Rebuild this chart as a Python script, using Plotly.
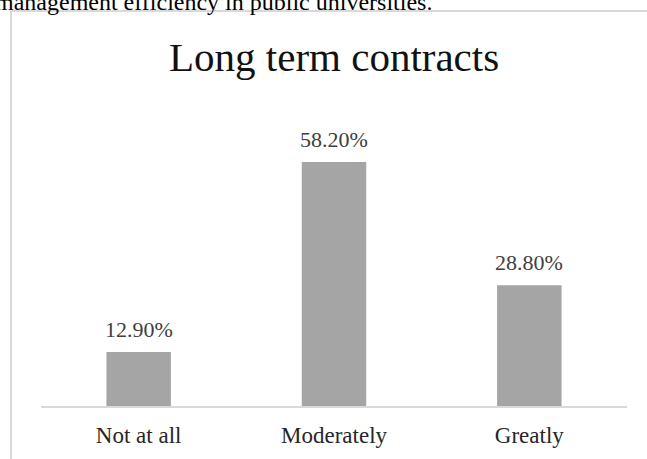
import plotly.graph_objects as go

# Survey responses: extent to which long term contracts apply
categories = ["Not at all", "Moderately", "Greatly"]
percentages = [12.9, 58.2, 28.8]
title_text = "Long term contracts"
caption_text = "management efficiency in public universities."

W, H = 647, 459
L, R, T, B = 41, 20, 100, 53
plot_w = W - L - R
plot_h = H - T - B
y_max = 73.0


def px_x(p):
    return (p - L) / plot_w


def px_y(p):
    return (H - B - p) / plot_h


fig = go.Figure(
    go.Bar(
        x=categories,
        y=percentages,
        marker=dict(color="#A5A5A5", line=dict(width=0)),
        width=0.33,
        hoverinfo="skip",
    )
)

# value labels above each bar
for c, v in zip(categories, percentages):
    fig.add_annotation(
        x=c, y=v, xref="x", yref="y",
        text=f"{v:.2f}%",
        showarrow=False, yanchor="bottom", yshift=8,
        font=dict(family="Liberation Serif", size=22, color="#404040"),
    )

# chart title
fig.add_annotation(
    x=px_x(334), y=px_y(57), xref="paper", yref="paper",
    text=title_text, showarrow=False, xanchor="center", yanchor="middle",
    font=dict(family="Liberation Serif", size=41, color="#111111"),
)

# running text of the page above the chart frame
fig.add_annotation(
    x=px_x(-7), y=px_y(2), xref="paper", yref="paper",
    text=caption_text, showarrow=False, xanchor="left", yanchor="middle",
    font=dict(family="Liberation Serif", size=24, color="#000000"),
)

# chart frame
fig.add_shape(
    type="rect", xref="paper", yref="paper",
    x0=px_x(11), x1=px_x(700), y0=px_y(520), y1=px_y(11),
    line=dict(color="#D9D9D9", width=2), fillcolor="rgba(0,0,0,0)",
    layer="below",
)

fig.update_layout(
    width=W, height=H,
    margin=dict(l=L, r=R, t=T, b=B),
    paper_bgcolor="white", plot_bgcolor="white",
    showlegend=False,
    bargap=0.67,
    font=dict(family="Liberation Serif", color="#404040"),
)
fig.update_xaxes(
    showline=True, linecolor="#D9D9D9", linewidth=1.5,
    showgrid=False, ticks="", zeroline=False,
    tickfont=dict(family="Liberation Serif", size=23, color="#262626"),
    ticklabelstandoff=8,
)
fig.update_yaxes(
    range=[0, y_max], visible=False, showgrid=False, zeroline=False,
)

fig.write_html("out.html")
